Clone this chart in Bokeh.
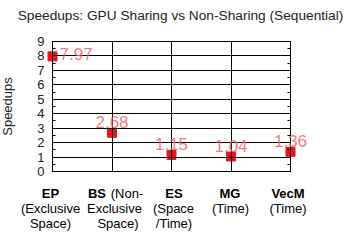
from bokeh.plotting import figure
from bokeh.models import (Range1d, FixedTicker, LinearAxis, Label,
                          ColumnDataSource)
from bokeh.core.properties import value
from bokeh.embed import file_html
from bokeh.resources import INLINE

# ---- data ----
categories = ["EP", "BS", "ES", "MG", "VecM"]
speedups = [7.97, 2.68, 1.15, 1.04, 1.36]
speedup_text = ["7.97", "2.68", "1.15", "1.04", "1.36"]
cat_bold = ["EP", "BS", "ES", "MG", "VecM"]
cat_line2 = ["(Exclusive", "Exclusive", "(Space", "(Time)", "(Time)"]
cat_line3 = ["Space)", "Space)", "/Time)", "", ""]
bs_suffix = "(Non-"
title_text = "Speedups: GPU Sharing vs Non-Sharing (Sequential)"
y_ticks = [0, 1, 2, 3, 4, 5, 6, 7, 8, 9]
y_minor = [0.5, 1.5, 2.5, 3.5, 4.5, 5.5, 6.5, 7.5, 8.5]

FONT = "Liberation Sans"
W, H = 356, 245
# box (plot area) inside the canvas, in pixels
BL, BR, BT, BB = 52, 66, 41, H - 171
FW = W - BL - BR
FH = H - BT - BB
n = len(categories)
xs = list(range(n))
px_x = FW / (n - 1)
px_y = FH / 9.0

x_range = Range1d(-BL / px_x, (n - 1) + BR / px_x)
y_range = Range1d(-BB / px_y, 9 + BT / px_y)

p = figure(width=W, height=H, output_backend="svg", toolbar_location=None,
           x_range=x_range, y_range=y_range, min_border=0,
           x_axis_type=None, y_axis_type=None)
p.outline_line_color = None
p.background_fill_color = "white"
p.border_fill_color = "white"
p.xgrid.visible = False
p.ygrid.visible = False

# left axis (with long inward major ticks acting as horizontal grid lines)
la = LinearAxis(fixed_location=0, bounds=(0, 9),
                ticker=FixedTicker(ticks=y_ticks, minor_ticks=y_minor))
la.axis_label = "Speedups"
la.axis_label_text_font = FONT
la.axis_label_text_font_size = "13px"
la.axis_label_text_font_style = "normal"
la.axis_label_text_color = "#222222"
la.axis_label_standoff = 19
la.major_label_text_font = FONT
la.major_label_text_font_size = "13px"
la.major_label_text_color = "#222222"
la.major_label_standoff = 8
la.major_tick_out = 0
la.major_tick_in = FW
la.major_tick_line_color = "black"
la.minor_tick_in = 3
la.minor_tick_out = 0
la.axis_line_color = "black"
p.add_layout(la, "left")

# right axis
ra = LinearAxis(fixed_location=n - 1, bounds=(0, 9),
                ticker=FixedTicker(ticks=y_ticks, minor_ticks=y_minor))
ra.major_label_text_font_size = "0px"
ra.major_label_text_alpha = 0
ra.major_tick_out = 0
ra.major_tick_in = 0
ra.minor_tick_in = 3
ra.minor_tick_out = 0
ra.axis_line_color = "black"
p.add_layout(ra, "right")

# bottom axis (long inward major ticks act as vertical grid lines)
ba = LinearAxis(fixed_location=0, bounds=(0, n - 1),
                ticker=FixedTicker(ticks=xs, minor_ticks=[]))
ba.major_label_text_font_size = "0px"
ba.major_label_text_alpha = 0
ba.major_tick_out = 0
ba.major_tick_in = FH
ba.minor_tick_in = 0
ba.minor_tick_out = 0
ba.axis_line_color = "black"
p.add_layout(ba, "below")

# top axis line
ta = LinearAxis(fixed_location=9, bounds=(0, n - 1),
                ticker=FixedTicker(ticks=[], minor_ticks=[]))
ta.major_label_text_font_size = "0px"
ta.major_tick_out = 0
ta.major_tick_in = 0
ta.axis_line_color = "black"
p.add_layout(ta, "above")

# markers
src = ColumnDataSource(dict(x=xs, y=speedups, t=speedup_text))
p.scatter("x", "y", source=src, marker="square", size=9,
          fill_color="#e8151f", line_color="#e8151f")

# value labels
for i, (xv, yv, tv) in enumerate(zip(xs, speedups, speedup_text)):
    if i == 0:
        p.add_layout(Label(x=xv, y=yv, text=tv, x_offset=7, y_offset=2,
                           text_align="left", text_baseline="middle",
                           text_font=FONT, text_font_size="17px",
                           text_color="#f06a6a", text_alpha=0.88))
    else:
        p.add_layout(Label(x=xv, y=yv, text=tv, x_offset=0, y_offset=10.5,
                           text_align="center", text_baseline="alphabetic",
                           text_font=FONT, text_font_size="17px",
                           text_color="#f06a6a", text_alpha=0.88))

# category labels
line_dy = [22, 37, 52]
bold_dx = [-2, -15, 2.5, -1, -2.5]
l2_dx = [-2, 2.5, 2, -0.5, -2.5]
l3_dx = [-2, 6, 2.5, 0, 0]
bx = [xv + d / px_x for xv, d in zip(xs, bold_dx)]
by = [-line_dy[0] / px_y] * n
p.text(x=bx, y=by, text=cat_bold, text_align="center", text_baseline="middle",
       text_font=value(FONT), text_font_size="13px", text_font_style="bold",
       text_color="black")
p.text(x=[xs[1] + 15 / px_x], y=[-line_dy[0] / px_y], text=[bs_suffix],
       text_align="center", text_baseline="middle",
       text_font=value(FONT), text_font_size="13px", text_color="black")
p.text(x=[xv + d / px_x for xv, d in zip(xs, l2_dx)], y=[-line_dy[1] / px_y] * n,
       text=cat_line2, text_align="center", text_baseline="middle",
       text_font=value(FONT), text_font_size="13px", text_color="black")
p.text(x=[xv + d / px_x for xv, d in zip(xs, l3_dx)], y=[-line_dy[2] / px_y] * n,
       text=cat_line3, text_align="center", text_baseline="middle",
       text_font=value(FONT), text_font_size="13px", text_color="black")

# title
p.add_layout(Label(x=(180 - BL) / px_x, y=9 + (BT - 15) / px_y, text=title_text,
                   text_align="center", text_baseline="middle",
                   text_font=FONT, text_font_size="13.7px", text_color="#222222"))

open("out.html", "w").write(file_html(p, INLINE))
